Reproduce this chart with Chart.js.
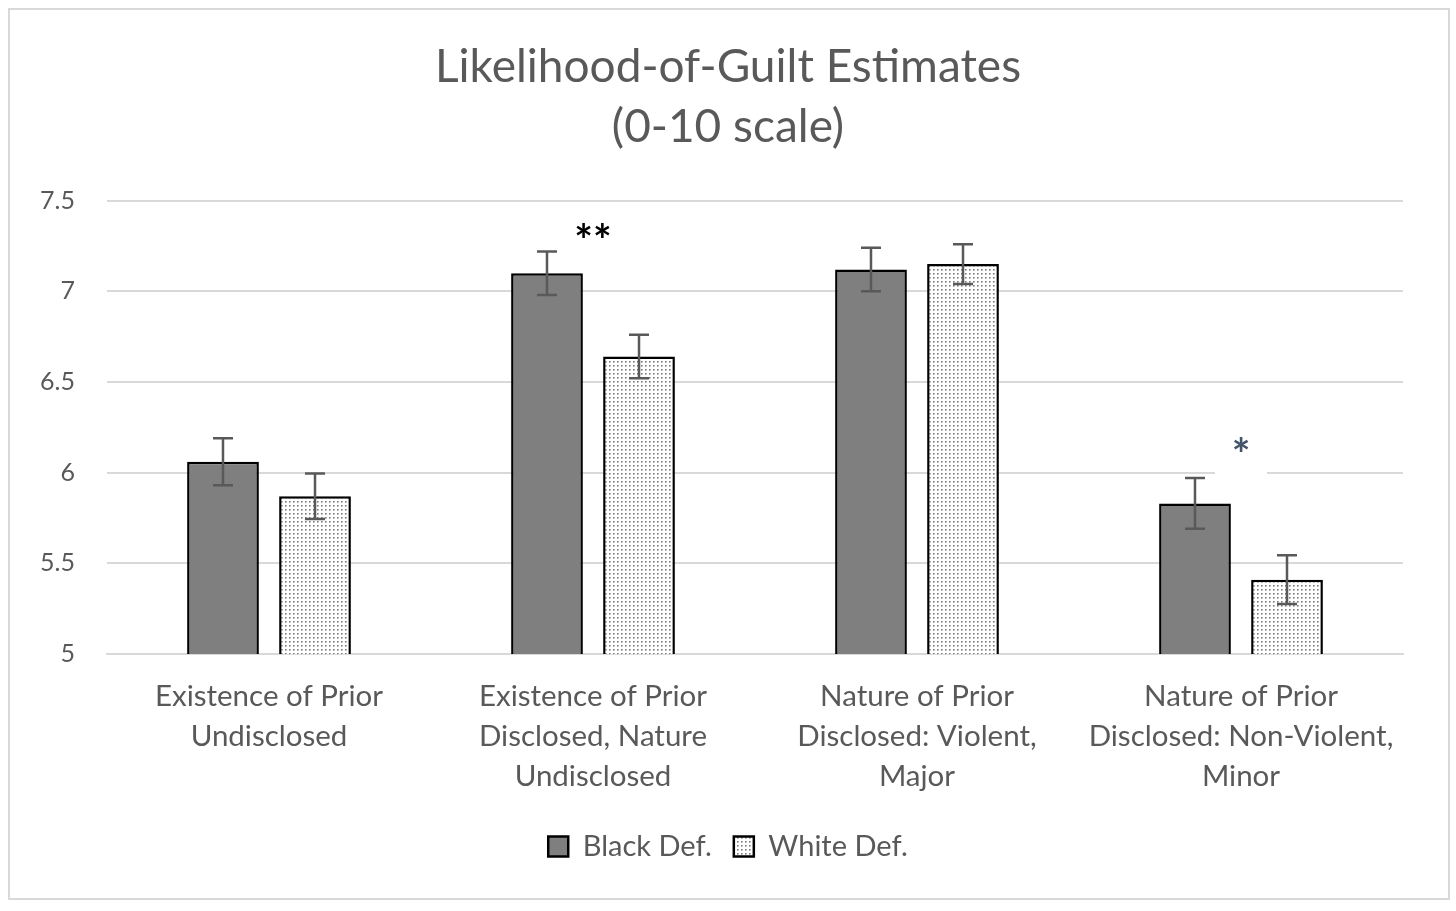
<!DOCTYPE html>
<html>
<head>
<meta charset="utf-8">
<script src="https://cdn.jsdelivr.net/npm/chart.js@4.4.1/dist/chart.umd.min.js"></script>
<style>
  html, body { margin: 0; padding: 0; background: #fff; }
  #frame { position: absolute; left: 8px; top: 8px; width: 1438px; height: 888px; border: 2px solid #d9d9d9; }
  #wrap { position: absolute; left: 0; top: 0; width: 1456px; height: 911px; }
</style>
</head>
<body>
<div id="frame"></div>
<div id="wrap"><canvas id="chart"></canvas></div>
<script>
// Data
const categories = [
    ['Existence of Prior', 'Undisclosed'],
    ['Existence of Prior', 'Disclosed, Nature', 'Undisclosed'],
    ['Nature of Prior', 'Disclosed: Violent,', 'Major'],
    ['Nature of Prior', 'Disclosed: Non-Violent,', 'Minor']
];
const blackDef = [6.06, 7.10, 7.12, 5.83];
const whiteDef = [5.87, 6.64, 7.15, 5.41];
const blackErr = [0.13, 0.12, 0.12, 0.14];
const whiteErr = [0.125, 0.12, 0.11, 0.135];
const sigLabels = ['', '**', '', '*'];
const sigValues = [null, 7.33, null, 6.15];
const yTicks = [5, 5.5, 6, 6.5, 7, 7.5];

const FONT = 'Lato, "Open Sans", sans-serif';
const TEXT = '#595959';

// dotted fill for the White Def. bars
function makeDots() {
    const c = document.createElement('canvas');
    c.width = 4; c.height = 4;
    const g = c.getContext('2d');
    g.fillStyle = '#ffffff';
    g.fillRect(0, 0, 4, 4);
    g.fillStyle = '#7a7a7a';
    g.fillRect(1, 1, 1.6, 1.6);
    return g.createPattern(c, 'repeat');
}
const ctx = document.getElementById('chart').getContext('2d');
const dots = makeDots();

const errorBars = {
    id: 'errorBars',
    afterDatasetsDraw(chart) {
        const g = chart.ctx;
        const y = chart.scales.y;
        const errs = [blackErr, whiteErr];
        g.save();
        g.strokeStyle = '#595959';
        g.lineWidth = 2.5;
        chart.data.datasets.forEach((ds, di) => {
            const meta = chart.getDatasetMeta(di);
            meta.data.forEach((bar, i) => {
                const v = ds.data[i], e = errs[di][i];
                const yt = y.getPixelForValue(v + e);
                const yb = y.getPixelForValue(v - e);
                g.beginPath();
                g.moveTo(bar.x, yt); g.lineTo(bar.x, yb);
                g.moveTo(bar.x - 10, yt); g.lineTo(bar.x + 10, yt);
                g.moveTo(bar.x - 10, yb); g.lineTo(bar.x + 10, yb);
                g.stroke();
            });
        });
        g.restore();
    }
};

const sigMarks = {
    id: 'sigMarks',
    afterDatasetsDraw(chart) {
        const g = chart.ctx;
        const x = chart.scales.x, y = chart.scales.y;
        g.save();
        g.textAlign = 'center';
        g.textBaseline = 'middle';
        sigLabels.forEach((lab, i) => {
            if (!lab) return;
            const px = x.getPixelForValue(i);
            const py = y.getPixelForValue(sigValues[i]);
            if (lab === '*') {
                // label box hides the gridline behind the single star
                g.fillStyle = '#ffffff';
                g.fillRect(px - 26, py - 22, 52, 57);
                g.fillStyle = '#44546a';
            } else {
                g.fillStyle = '#000000';
            }
            g.font = 'bold 44px ' + FONT;
            g.fillText(lab, px, py + 10);
        });
        g.restore();
    }
};

new Chart(ctx, {
    type: 'bar',
    data: {
        labels: categories,
        datasets: [
            {
                label: 'Black Def.',
                data: blackDef,
                backgroundColor: '#7f7f7f',
                borderColor: '#000000',
                borderWidth: 2.5,
                borderSkipped: false
            },
            {
                label: 'White Def.',
                data: whiteDef,
                backgroundColor: dots,
                borderColor: '#000000',
                borderWidth: 2.5,
                borderSkipped: false
            }
        ]
    },
    options: {
        responsive: true,
        maintainAspectRatio: false,
        animation: false,
        devicePixelRatio: 1,
        categoryPercentage: 0.568,
        barPercentage: 0.78,
        layout: { padding: { left: 36, right: 36, top: 0, bottom: 40 } },
        scales: {
            y: {
                min: 5,
                max: 7.5,
                afterBuildTicks: (axis) => { axis.ticks = yTicks.map(v => ({ value: v })); },
                grid: { color: '#d9d9d9', lineWidth: 2, drawTicks: false },
                border: { display: false },
                ticks: {
                    color: TEXT,
                    font: { family: FONT, size: 25 },
                    padding: 32,
                    callback: (v) => String(v)
                },
                afterFit: (axis) => { axis.width = 71; }
            },
            // empty spacer so the plot area ends where the reference's does
            yRight: {
                position: 'right',
                grid: { display: false },
                border: { display: false },
                ticks: { display: false },
                afterFit: (axis) => { axis.width = 17; }
            },
            x: {
                grid: { display: false },
                border: { display: true, color: '#d9d9d9', width: 2 },
                ticks: {
                    color: TEXT,
                    font: { family: FONT, size: 29.5, lineHeight: 1.356 },
                    padding: 14,
                    maxRotation: 0
                }
            }
        },
        plugins: {
            title: {
                display: true,
                text: ['Likelihood-of-Guilt Estimates', '(0-10 scale)'],
                color: TEXT,
                font: { family: FONT, size: 46, weight: 'normal', lineHeight: 1.3 },
                padding: { top: 37, bottom: 44 }
            },
            legend: {
                position: 'bottom',
                labels: {
                    color: TEXT,
                    font: { family: FONT, size: 29 },
                    boxWidth: 20,
                    boxHeight: 20,
                    padding: 22,
                    useBorderRadius: false
                }
            },
            tooltip: { enabled: false }
        }
    },
    plugins: [errorBars, sigMarks]
});
</script>
</body>
</html>
